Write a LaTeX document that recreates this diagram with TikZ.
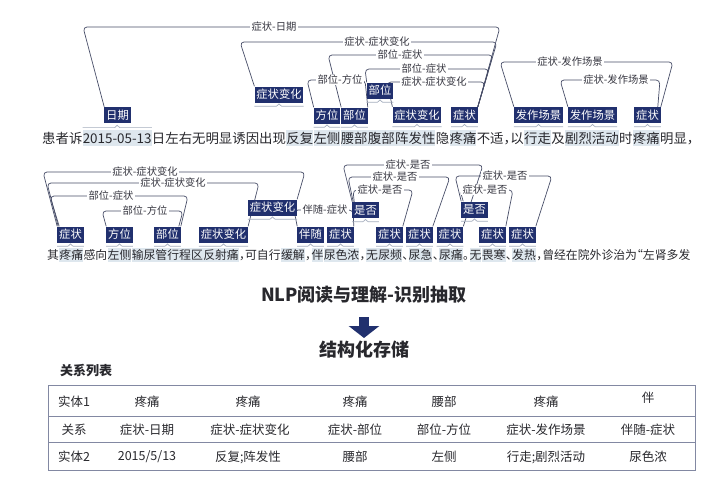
\documentclass[tikz,border=0pt]{standalone}
\usepackage{fontspec}
\setmainfont{Noto Sans CJK SC}
\newfontfamily\txtfont{Noto Sans CJK SC}[RawFeature=+halt]
\usetikzlibrary{arrows.meta}
\pgfdeclarelayer{bg}
\pgfsetlayers{bg,main}
\definecolor{navy}{RGB}{33,48,110}
\definecolor{arcc}{RGB}{72,78,104}
\definecolor{reltxt}{RGB}{55,55,65}
\definecolor{txt}{RGB}{40,40,45}
\definecolor{hlc}{RGB}{222,231,238}
\definecolor{brcc}{RGB}{165,174,190}
\definecolor{tbl}{RGB}{130,136,162}
\newcommand\relarc[8]{%
  \draw[arcl] #2 -- (#3,#4) -- (#5,#4) -- #6;
  \node[rel] (#1) at (#7,#4) {#8};}
\newcommand\bracebelow[1]{%
  \draw[brc] ([yshift=-3.5pt]#1.south west) -- ([xshift=-2.5pt,yshift=-3.5pt]#1.south)
    -- ([yshift=-1.2pt]#1.south) -- ([xshift=2.5pt,yshift=-3.5pt]#1.south) -- ([yshift=-3.5pt]#1.south east);}
\newcommand\braceabove[1]{%
  \draw[brc] ([yshift=2pt]#1.north west) -- ([xshift=-2.5pt,yshift=2pt]#1.north)
    -- ([yshift=4.3pt]#1.north) -- ([xshift=2.5pt,yshift=2pt]#1.north) -- ([yshift=2pt]#1.north east);}
\begin{document}
\begin{tikzpicture}[x=1pt,y=-1pt,
  seg/.style={anchor=west, inner xsep=0pt, inner ysep=1.5pt, text=txt},
  hl/.style={seg, fill=hlc},
  lab/.style={fill=navy, text=white, inner xsep=1.8pt, inner ysep=0pt, minimum height=16pt,
    text height=9.6pt, text depth=1.4pt, font=\fontsize{11.3}{12}\selectfont},
  rel/.style={fill=white, inner xsep=1.2pt, inner ysep=0.3pt, text height=8.5pt, text depth=1.2pt,
    text=reltxt, font=\fontsize{10.3}{11}\selectfont},
  arcl/.style={draw=arcc, line width=0.7pt, rounded corners=4pt},
  brc/.style={draw=brcc, line width=0.7pt},
  cell/.style={text=txt, font=\fontsize{12.5}{14}\selectfont, inner sep=1pt},
  heading/.style={text=txt, font=\bfseries\fontsize{18}{20}\selectfont, inner sep=1pt},
  tline/.style={draw=tbl, line width=0.9pt}]
\begin{pgfonlayer}{bg}
\fill[white] (0,0) rectangle (712,483);
\end{pgfonlayer}
\useasboundingbox (0,0) rectangle (712,483);

% ---------- line 1 text ----------
\begin{scope}[font=\txtfont\fontsize{13.4}{15}\selectfont, seg/.append style={text height=11.8pt, text depth=1.6pt}]
\node[seg] (t1) at (42,138) {患者诉};
\node[hl] (t2) at (t1.east) {2015-05-13};
\node[seg] (t3) at (t2.east) {日左右无明显诱因出现};
\node[hl] (t4) at (t3.east) {反复};
\node[hl] (t5) at (t4.east) {左侧};
\node[hl] (t6) at (t5.east) {腰部};
\node[hl] (t7) at (t6.east) {腹部};
\node[hl] (t8) at (t7.east) {阵发性};
\node[seg] (t9) at (t8.east) {隐};
\node[hl] (t10) at (t9.east) {疼痛};
\node[seg] (t11) at (t10.east) {不适，以};
\node[hl] (t12) at (t11.east) {行走};
\node[seg] (t13) at (t12.east) {及};
\node[hl] (t14) at (t13.east) {剧烈活动};
\node[seg] (t15) at (t14.east) {时};
\node[hl] (t16) at (t15.east) {疼痛};
\node[seg] (t17) at (t16.east) {明显，};
\end{scope}

% ---------- line 2 text ----------
\begin{scope}[font=\txtfont\fontsize{11.85}{14}\selectfont, seg/.append style={text height=10.4pt, text depth=1.5pt}]
\node[seg] (u1) at (47,255) {其};
\node[hl] (u2) at (u1.east) {疼痛};
\node[seg] (u3) at (u2.east) {感向};
\node[hl] (u4) at (u3.east) {左侧};
\node[hl] (u5) at (u4.east) {输尿管行程区};
\node[hl] (u6) at (u5.east) {反射痛};
\node[seg] (u7) at (u6.east) {，可自行};
\node[hl] (u8) at (u7.east) {缓解};
\node[seg] (u9) at (u8.east) {，};
\node[hl] (u10) at (u9.east) {伴};
\node[hl] (u11) at (u10.east) {尿色浓};
\node[seg] (u12) at (u11.east) {，};
\node[hl] (u13) at (u12.east) {无};
\node[hl] (u14) at (u13.east) {尿频};
\node[seg] (u15) at (u14.east) {、};
\node[hl] (u16) at (u15.east) {尿急};
\node[seg] (u17) at (u16.east) {、};
\node[hl] (u18) at (u17.east) {尿痛};
\node[seg] (u19) at (u18.east) {。};
\node[hl] (u20) at (u19.east) {无};
\node[hl] (u21) at (u20.east) {畏寒};
\node[seg] (u22) at (u21.east) {、};
\node[hl] (u23) at (u22.east) {发热};
\node[seg] (u24) at (u23.east) {，曾经在院外诊治为“左肾多发};
\end{scope}

% ---------- line 1 labels ----------
\node[lab] (rq) at (117.5,115) {日期};
\node[lab] (fw1) at (327,115.5) {方位};
\node[lab] (bw1) at (354.5,115.5) {部位};
\node[lab] (bh2) at (417,115) {症状变化};
\node[lab] (zz1) at (464.5,115) {症状};
\node[lab] (fz1) at (538.5,115) {发作场景};
\node[lab] (fz2) at (592.5,115) {发作场景};
\node[lab] (zz2) at (647.5,115) {症状};
\node[lab] (bh1) at (279,94.5) {症状变化};
\node[lab] (bw2) at (380,90.5) {部位};

% ---------- line 2 labels ----------
\node[lab] (s1) at (70.5,234.5) {症状};
\node[lab] (fw2) at (119.5,234.5) {方位};
\node[lab] (bw3) at (167.5,234.5) {部位};
\node[lab] (bh4) at (223.5,234.5) {症状变化};
\node[lab] (bs) at (310.5,234.5) {伴随};
\node[lab] (s2) at (340.5,234.5) {症状};
\node[lab] (s3) at (389.5,234.5) {症状};
\node[lab] (s4) at (419.5,234.5) {症状};
\node[lab] (s5) at (450,234.5) {症状};
\node[lab] (s6) at (492.5,234.5) {症状};
\node[lab] (s7) at (522.5,234.5) {症状};
\node[lab] (bh3) at (272.5,207.5) {症状变化};
\node[lab] (sf1) at (365.5,210) {是否};
\node[lab] (sf2) at (474.5,209.5) {是否};

% ---------- relation arcs ----------
\begin{pgfonlayer}{bg}
\relarc{r1}{(rq.north west)}{83}{27}{500}{(zz1.north east)}{274}{症状-日期}
\relarc{r2}{(bh1.north west)}{240}{42}{497}{(zz1.north east)}{377}{症状-症状变化}
\relarc{r3}{(bw1.north west)}{328}{55}{493}{(zz1.north east)}{400}{部位-症状}
\relarc{r4}{(bw2.north west)}{365}{69}{489}{(zz1.north east)}{424}{部位-症状}
\relarc{r6}{(bh2.north west)}{387}{82}{485}{(zz1.north east)}{434}{症状-症状变化}
\relarc{r5}{(fw1.north west)}{307}{80}{365}{(bw1.north east)}{340}{部位-方位}
\relarc{r7}{(fz1.north west)}{500}{62}{673}{(zz2.north east)}{570}{症状-发作场景}
\relarc{r8}{(fz2.north west)}{560}{80}{660}{([xshift=-3pt]zz2.north east)}{616}{症状-发作场景}

\relarc{q1}{(s1.north west)}{43}{172}{305}{(bh3.north east)}{145}{症状-症状变化}
\relarc{q2}{([xshift=1pt]s1.north west)}{47}{183}{259}{(bh4.north east)}{173}{症状-症状变化}
\relarc{q3}{([xshift=2pt]s1.north west)}{50}{196}{188}{(bw3.north east)}{111}{部位-症状}
\relarc{q4}{(fw2.north west)}{102}{211}{183}{([xshift=-2pt]bw3.north east)}{145}{部位-方位}
\relarc{q5}{(bs.north west)}{294}{210}{353}{(s2.north east)}{325}{伴随-症状}
\relarc{q6}{(sf1.north west)}{343}{165}{483}{(s5.north east)}{408}{症状-是否}
\relarc{q7}{([xshift=1pt]sf1.north west)}{348}{177}{450}{(s4.north east)}{395}{症状-是否}
\relarc{q8}{([xshift=2pt]sf1.north west)}{353}{190}{413}{(s3.north east)}{380}{症状-是否}
\relarc{q9}{(sf2.north west)}{455}{176}{552}{(s7.north east)}{505}{症状-是否}
\relarc{q10}{([xshift=2pt]sf2.north west)}{460}{190}{513}{(s6.north east)}{485}{症状-是否}
\end{pgfonlayer}

% ---------- braces ----------
\braceabove{t2}
\foreach \b in {fw1,bw1,bh2,zz1,fz1,fz2,zz2,bh1,bw2,s1,fw2,bw3,bh4,bs,s2,s3,s4,s5,s6,s7,bh3,sf1,sf2}{\bracebelow{\b}}

% ---------- lower part ----------
\node[heading] (title) at (364,295) {NLP阅读与理解-识别抽取};
\coordinate (a1) at (364,317);
\coordinate (a2) at (364,338);
\draw[navy, line width=10pt, -{Triangle[width=30pt,length=12pt]}] (a1) -- (a2);
\node[heading] (sub) at (364,350) {结构化存储};
\node[text=txt, font=\bfseries\fontsize{13}{14}\selectfont, inner sep=1pt] (lt) at (86,371) {关系列表};

\draw[tline] (48,385) rectangle (695,470);
\draw[tline] (48,416) -- (695,416);
\draw[tline] (48,442) -- (695,442);

\node[cell] (c11) at (74,402) {实体1};
\node[cell] (c12) at (147,402) {疼痛};
\node[cell] (c13) at (248,402) {疼痛};
\node[cell] (c14) at (355,402) {疼痛};
\node[cell] (c15) at (444,402) {腰部};
\node[cell] (c16) at (546,402) {疼痛};
\node[cell] (c17) at (648,398) {伴};
\node[cell] (c21) at (74,429.5) {关系};
\node[cell] (c22) at (147,429.5) {症状-日期};
\node[cell] (c23) at (250,429.5) {症状-症状变化};
\node[cell] (c24) at (355,429.5) {症状-部位};
\node[cell] (c25) at (444,429.5) {部位-方位};
\node[cell] (c26) at (546,429.5) {症状-发作场景};
\node[cell] (c27) at (648,429.5) {伴随-症状};
\node[cell] (c31) at (74,457) {实体2};
\node[cell] (c32) at (147,457) {2015/5/13};
\node[cell] (c33) at (248,457) {反复;阵发性};
\node[cell] (c34) at (355,457) {腰部};
\node[cell] (c35) at (444,457) {左侧};
\node[cell] (c36) at (546,457) {行走;剧烈活动};
\node[cell] (c37) at (648,457) {尿色浓};
\end{tikzpicture}
\end{document}
